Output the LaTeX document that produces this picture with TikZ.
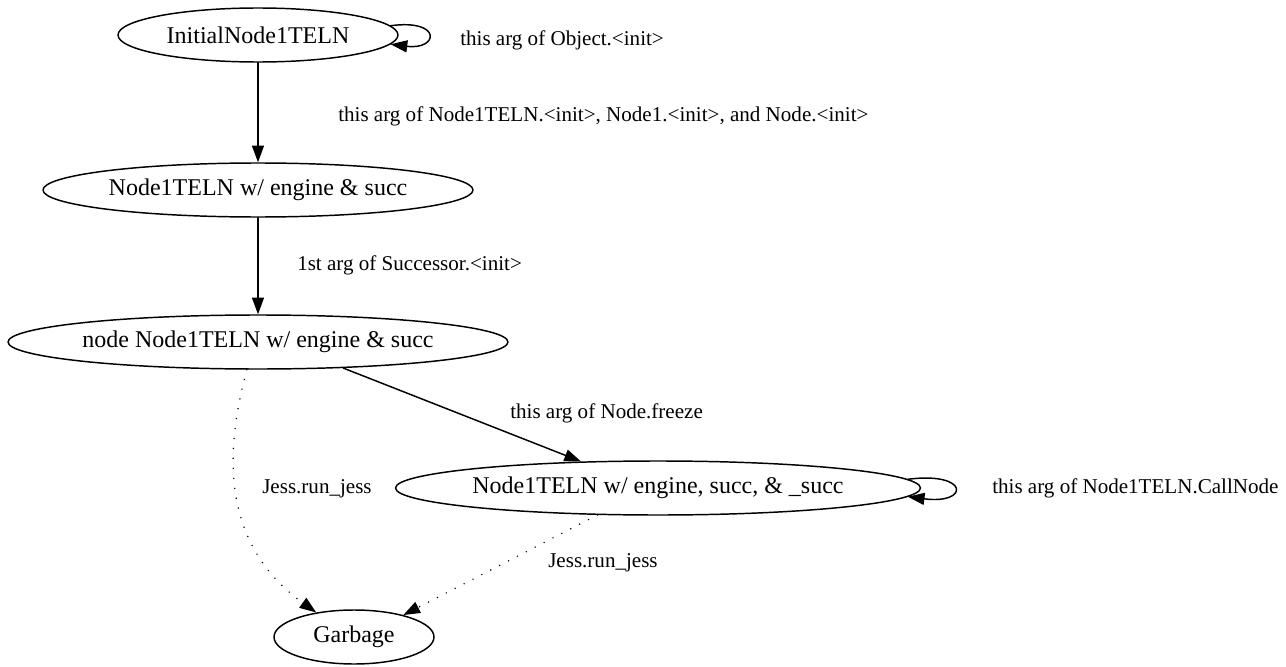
\documentclass[tikz,border=0pt]{standalone}
\usepackage{fontspec}
\setmainfont{Liberation Serif}
\usetikzlibrary{arrows.meta, shapes.geometric}
\tikzset{
  >={Triangle[length=12.5pt, width=9pt]},
  every picture/.style={line cap=round, line join=round},
  state/.style={draw, ellipse, line width=1.1pt, inner sep=0pt, minimum height=40.5pt, font=\fontsize{18}{20}\selectfont},
  edge/.style={->, line width=1.1pt},
  % dotted edges (objects that end up as garbage)
  gc/.style={->, line width=1.2pt, dash pattern=on 0pt off 7.5pt},
  lbl/.style={anchor=west, inner sep=0pt, font=\fontsize{15.8}{18}\selectfont},
}

\begin{document}
\begin{tikzpicture}[x=0.75pt, y=-0.75pt]
  \useasboundingbox (0,0) rectangle (1286,667);
  % ---------------- states
  \node[state, minimum width=210pt] (initial) at (258,35) {InitialNode1TELN};
  \node[state, minimum width=322.5pt] (withsucc) at (258,190) {Node1TELN w/ engine \& succ};
  \node[state, minimum width=375pt] (nodesucc) at (258,342) {node Node1TELN w/ engine \& succ};
  \node[state, minimum width=392pt] (callnode) at (658,488) {Node1TELN w/ engine, succ, \& \_succ};
  \node[state, minimum width=120pt] (garbage) at (354,637) {Garbage};
  % ---------------- edges
  \draw[edge] (initial.4) .. controls +(52,-7) and +(48,6) .. (initial.-4);
  \draw[edge] (initial) -- (withsucc);
  \draw[edge] (withsucc) -- (nodesucc);
  \draw[edge] (nodesucc.-17.5) -- (callnode.161);
  \draw[edge] (callnode.2.5) .. controls +(62,-8) and +(62,8) .. (callnode.-2.5);
  \draw[gc] (nodesucc.-112) .. controls (228,440) and (215,540) .. (garbage.147);
  \draw[gc] (callnode.-156) -- (garbage.24);
  % ---------------- labels
  \node[lbl] (lobj) at (460,40) {this arg of Object.<init>};
  \node[lbl] (linit) at (338,116) {this arg of Node1TELN.<init>, Node1.<init>, and Node.<init>};
  \node[lbl] (lsucc) at (297,265) {1st arg of Successor.<init>};
  \node[lbl] (lfreeze) at (510,413) {this arg of Node.freeze};
  \node[lbl] (ljess) at (262,489) {Jess.run\_jess};
  \node[lbl] (ljessb) at (548,563) {Jess.run\_jess};
  \node[lbl] (lcall) at (992,488) {this arg of Node1TELN.CallNode};
\end{tikzpicture}
\end{document}
